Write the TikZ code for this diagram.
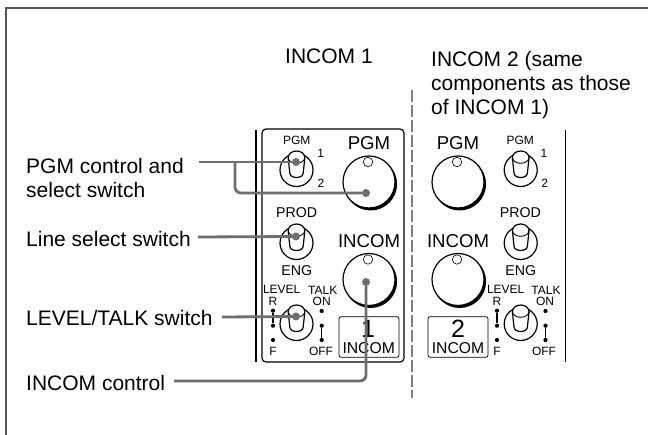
\documentclass[tikz,border=0pt]{standalone}
\usepackage{xcolor}
\usepackage{fontspec}
\setmainfont{Liberation Sans}
\usetikzlibrary{positioning}
\definecolor{leadergray}{HTML}{6E6E6E}
\definecolor{framegray}{HTML}{555555}
\definecolor{dashgray}{HTML}{808080}
\tikzset{
    toggle/.pic={
        \draw [line width=1.2pt] (0,0) circle (16.5);
        \draw [line width=1.2pt, fill=white] (-8.3,-12) .. controls (-8.3,-21.3) and (8.3,-21.3) .. (8.3,-12) -- (6.7,3) .. controls (6.7,9) and (-6.7,9) .. (-6.7,3) -- cycle;
        \draw [line width=0.9pt] (-8.3,-12) .. controls (-7,-5) and (7,-5) .. (8.3,-12);
    },
    knob/.pic={
        \fill [black] (1.6,2) circle (26.5);
        \draw [line width=1.2pt, fill=white] (0,0) circle (26);
        \draw [line width=0.6pt] (-1,-20) circle (4.7);
    }
}
\begin{document}
\begin{tikzpicture}[x=1pt, y=-1pt]
    \tikzstyle{textlabel} = [inner sep=0pt, font=\fontsize{21}{24}\selectfont, align=left]
    \tikzstyle{bigtext} = [inner sep=0pt, font=\fontsize{18.6}{20}\selectfont]
    \tikzstyle{midtext} = [inner sep=0pt, font=\fontsize{14.2}{16}\selectfont]
    \tikzstyle{smalltext} = [inner sep=0pt, font=\fontsize{12}{14}\selectfont]
    \tikzstyle{boxtext} = [inner sep=0pt, font=\fontsize{15.7}{18}\selectfont]
    \tikzstyle{digit} = [inner sep=0pt, font=\fontsize{25}{28}\selectfont]
    \tikzstyle{terminal} = [circle, fill=black, inner sep=0pt, minimum size=4.2pt]
    \tikzstyle{tipdot} = [circle, fill=leadergray, inner sep=0pt, minimum size=8pt]
    \tikzstyle{numbox} = [draw, line width=0.8pt, rounded corners=2pt, minimum width=60pt, minimum height=40.5pt, inner sep=0pt]
    \tikzstyle{leader} = [leadergray, line width=2.8pt, rounded corners=6pt]
    \useasboundingbox (0,0) rectangle (648,435);

    \draw [framegray, line width=1.6pt] (648,8) -- (6,8) -- (6,435);
    \draw [dashgray, line width=1.6pt, dash pattern=on 12pt off 3pt] (412,90) -- (412,398);

    \node (headone) [textlabel, anchor=base west] at (285,64) {INCOM 1};
    \node (headtwo) [textlabel, anchor=north west] at (431,51) {INCOM 2 (same\\components as those\\of INCOM 1)};

    \node (pgmlabel) [textlabel, anchor=north west] at (26,158) {PGM control and\\select switch};
    \node (linelabel) [textlabel, anchor=base west] at (26,247) {Line select switch};
    \node (levellabel) [textlabel, anchor=base west] at (26,326) {LEVEL/TALK switch};
    \node (incomlabel) [textlabel, anchor=base west] at (26,391) {INCOM control};

    \draw [line width=1.2pt] (256,130) -- (256,362);
    \node (panelone) [draw, line width=1.2pt, rounded corners=4pt, minimum width=142pt, minimum height=233pt, inner sep=0pt] at (333,245.5) {};
    \draw [line width=1.2pt] (565.7,130) -- (565.7,362);

    \pic at (296.5,170) {toggle};
    \pic at (296.5,243) {toggle};
    \pic at (296.5,324) {toggle};
    \pic at (369,182) {knob};
    \pic at (369,279.5) {knob};
    \node (pgmsmallone) [smalltext, anchor=base] at (296.7,145) {PGM};
    \node (posaone) [smalltext] at (320.7,153) {1};
    \node (posbone) [smalltext] at (321,183) {2};
    \node (pgmbigone) [bigtext, anchor=base] at (369,150) {PGM};
    \node (prodone) [midtext, anchor=base] at (296.7,218) {PROD};
    \node (incombigone) [bigtext, anchor=base] at (369,248) {INCOM};
    \node (engone) [midtext, anchor=base] at (296.7,276) {ENG};
    \node (levelone) [smalltext, anchor=base] at (281.7,294) {LEVEL};
    \node (talkone) [smalltext, anchor=base] at (322.7,295) {TALK};
    \node (rone) [smalltext, anchor=base] at (273,305.7) {R};
    \node (onone) [smalltext, anchor=base] at (321.7,305.7) {ON};
    \node (fone) [smalltext, anchor=base] at (273,355.7) {F};
    \node (offone) [smalltext, anchor=base] at (321,355.7) {OFF};
    \node (laone) [terminal] at (273,310.7) {};
    \node (lbone) [terminal] at (273,325.7) {};
    \node (lcone) [terminal] at (273,340) {};
    \node (raone) [terminal] at (321.7,311) {};
    \node (rbone) [terminal] at (321.7,325.7) {};
    \node (rcone) [terminal] at (321.7,340) {};
    \draw [line width=1.2pt] (laone) -- (lbone);
    \draw [line width=1.2pt] (rbone) -- (rcone);
    \node (boxone) [numbox] at (369,337) {};
    \node (digitone) [digit, anchor=base] at (368,338) {1};
    \node (boxtextone) [boxtext, anchor=base] at (368.7,354) {INCOM};

    \pic at (520.7,170) {toggle};
    \pic at (520.7,243) {toggle};
    \pic at (520.7,324) {toggle};
    \pic at (458,182) {knob};
    \pic at (458,279.5) {knob};
    \node (pgmsmalltwo) [smalltext, anchor=base] at (520.3,145) {PGM};
    \node (posatwo) [smalltext] at (544,153) {1};
    \node (posbtwo) [smalltext] at (544.7,183) {2};
    \node (pgmbigtwo) [bigtext, anchor=base] at (458,150) {PGM};
    \node (prodtwo) [midtext, anchor=base] at (520.3,218) {PROD};
    \node (incombigtwo) [bigtext, anchor=base] at (458,248) {INCOM};
    \node (engtwo) [midtext, anchor=base] at (520.7,276) {ENG};
    \node (leveltwo) [smalltext, anchor=base] at (505.7,294) {LEVEL};
    \node (talktwo) [smalltext, anchor=base] at (546,295) {TALK};
    \node (rtwo) [smalltext, anchor=base] at (497,305.7) {R};
    \node (ontwo) [smalltext, anchor=base] at (545,305.7) {ON};
    \node (ftwo) [smalltext, anchor=base] at (497,355.7) {F};
    \node (offtwo) [smalltext, anchor=base] at (544,355.7) {OFF};
    \node (latwo) [terminal] at (497,310.7) {};
    \node (lbtwo) [terminal] at (497,325.7) {};
    \node (lctwo) [terminal] at (497,340) {};
    \node (ratwo) [terminal] at (545.5,311) {};
    \node (rbtwo) [terminal] at (545.5,325.7) {};
    \node (rctwo) [terminal] at (545.5,340) {};
    \draw [line width=1.2pt] (latwo) -- (lbtwo);
    \draw [line width=1.2pt] (rbtwo) -- (rctwo);
    \node (boxtwo) [numbox] at (458,337) {};
    \node (digittwo) [digit, anchor=base] at (458,338) {2};
    \node (boxtexttwo) [boxtext, anchor=base] at (458,354) {INCOM};

    \node (pgmsw) [tipdot] at (296,162) {};
    \node (pgmknob) [tipdot] at (366,193) {};
    \node (linesw) [tipdot] at (296,236.5) {};
    \node (levelsw) [tipdot] at (296,316.5) {};
    \node (incomknob) [tipdot] at (366,282) {};
    \coordinate (pgmstart) at (199,162);
    \coordinate (pgmbranch) at (235,162);
    \coordinate (linestart) at (198,237);
    \coordinate (levelstart) at (222,317);
    \coordinate (incomstart) at (174,381);

    \draw [leader] (pgmstart) -- (pgmsw);
    \draw [leader] (pgmbranch) |- (pgmknob);
    \draw [leader] (linestart) -- (linesw.center);
    \draw [leader] (levelstart) -- (levelsw.center);
    \draw [leader] (incomstart) -| (incomknob);
\end{tikzpicture}
\end{document}
